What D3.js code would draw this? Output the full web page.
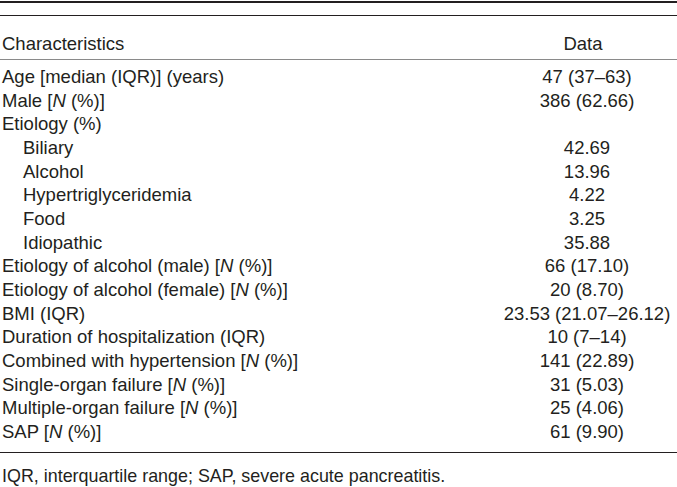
<!DOCTYPE html>
<html><head><meta charset="utf-8">
<script src="https://cdn.jsdelivr.net/npm/d3@7"></script>
<style>
html,body{margin:0;padding:0;background:#fff;}
svg text{font-family:"Liberation Sans",Arial,Helvetica,sans-serif;font-size:18.5px;fill:#231f20;}
svg text.foot{font-size:17.9px;}
</style></head><body>
<svg id="c" width="677" height="487"></svg>
<script>
const headers = ["Characteristics", "Data"];
const characteristics = [
  "Age [median (IQR)] (years)",
  "Male [N (%)]",
  "Etiology (%)",
  "Biliary",
  "Alcohol",
  "Hypertriglyceridemia",
  "Food",
  "Idiopathic",
  "Etiology of alcohol (male) [N (%)]",
  "Etiology of alcohol (female) [N (%)]",
  "BMI (IQR)",
  "Duration of hospitalization (IQR)",
  "Combined with hypertension [N (%)]",
  "Single-organ failure [N (%)]",
  "Multiple-organ failure [N (%)]",
  "SAP [N (%)]"
];
const indented = [false,false,false,true,true,true,true,true,false,false,false,false,false,false,false,false];
const values = [
  "47 (37–63)",
  "386 (62.66)",
  "",
  "42.69",
  "13.96",
  "4.22",
  "3.25",
  "35.88",
  "66 (17.10)",
  "20 (8.70)",
  "23.53 (21.07–26.12)",
  "10 (7–14)",
  "141 (22.89)",
  "31 (5.03)",
  "25 (4.06)",
  "61 (9.90)"
];
const footnote = "IQR, interquartile range; SAP, severe acute pancreatitis.";

const W = 677;
const svg = d3.select("#c");
const y = d3.scaleBand().domain(d3.range(characteristics.length)).range([64.5, 64.5 + 16 * 23.67]);
const colX = {label: 2, indent: 23, data: 587};

// rules
svg.append("line").attr("x1",0).attr("x2",W).attr("y1",2).attr("y2",2).attr("stroke","#231f20").attr("stroke-width",2);
svg.append("line").attr("x1",0).attr("x2",W).attr("y1",15.5).attr("y2",15.5).attr("stroke","#231f20").attr("stroke-width",1);
svg.append("line").attr("x1",0).attr("x2",W).attr("y1",59.5).attr("y2",59.5).attr("stroke","#8a8a8a").attr("stroke-width",1);
svg.append("line").attr("x1",0).attr("x2",W).attr("y1",452.5).attr("y2",452.5).attr("stroke","#231f20").attr("stroke-width",1);

// header
svg.append("text").attr("x",colX.label).attr("y",49.5).text(headers[0]);
svg.append("text").attr("x",colX.data - 4).attr("y",49.5).attr("text-anchor","middle").text(headers[1]);

// rows
const rows = svg.selectAll("g.row").data(characteristics).join("g").attr("class","row")
  .attr("transform",(d,i)=>`translate(0,${y(i) + 18.5})`);
rows.append("text")
  .attr("x",(d,i)=> indented[i] ? colX.indent : colX.label)
  .each(function(d){
    const t = d3.select(this);
    d.split(/(\bN\b)/).forEach(part=>{
      if(!part) return;
      const s = t.append("tspan").text(part);
      if(part === "N") s.attr("font-style","italic");
    });
  });
rows.append("text").attr("x",colX.data).attr("text-anchor","middle").text((d,i)=>values[i]);

svg.append("text").attr("class","foot").attr("x",colX.label).attr("y",482).text(footnote);
</script>
</body></html>
